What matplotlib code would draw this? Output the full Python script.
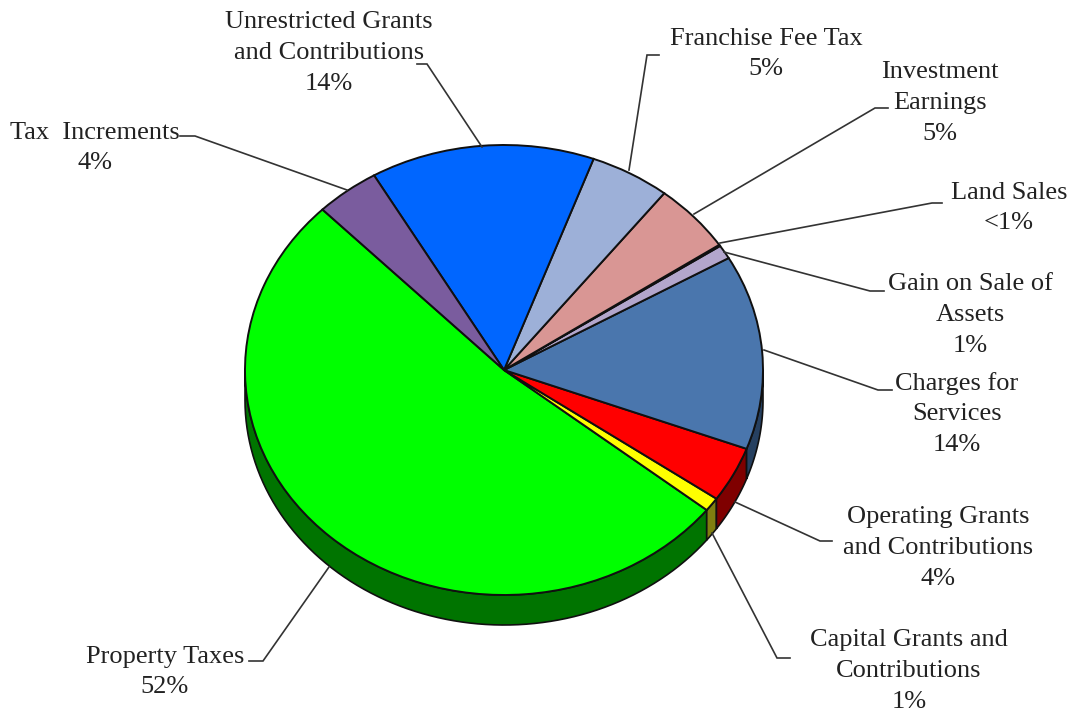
import numpy as np
import matplotlib.pyplot as plt

plt.rcParams['font.family'] = ['Liberation Serif', 'DejaVu Serif']

# slices run counter-clockwise from the start of Property Taxes
categories = ['Property Taxes', 'Capital Grants and\nContributions', 'Operating Grants\nand Contributions',
              'Charges for\nServices', 'Gain on Sale of\nAssets', 'Land Sales', 'Investment\nEarnings',
              'Franchise Fee Tax', 'Unrestricted Grants\nand Contributions', 'Tax  Increments']
values = [52, 1, 4, 14, 1, 0.1, 5, 5, 14, 4]
pct_labels = ['52%', '1%', '4%', '14%', '1%', '<1%', '5%', '5%', '14%', '4%']
top_colors = ['#00ff00', '#ffff00', '#ff0000', '#4a76ad', '#b3a6cc', '#b3a6cc',
              '#d99694', '#9db0d8', '#0066ff', '#7a5c9e']
side_colors = ['#007400', '#7f7f10', '#7f0000', '#264060', '#5a5066', '#5a5066',
               '#6d4b4a', '#4e586c', '#003380', '#3d2e4f']

W, H = 1076, 712
CX, CY, RX, RY, DEPTH = 504, 370, 259, 225, 30
EDGE = '#101010'

# label centre (px), then leader line points (px)
label_pos = [(165, 672), (909, 671), (938, 548), (957, 414), (970, 315), (1009, 208),
             (940, 103), (766, 54), (329, 53), (95, 148)]
leaders = [[(249, 661), (263, 661), (329, 567)],
           [(790, 658), (777, 658), (712, 533)],
           [(832, 541), (820, 541), (735, 502)],
           [(892, 390), (878, 390), (764, 350)],
           [(884, 291), (870, 291), (724, 252)],
           [(942, 203), (932, 203), (720, 243)],
           [(888, 108), (875, 108), (694, 214)],
           [(659, 55), (647, 55), (629, 170)],
           [(417, 64), (427, 64), (482, 147)],
           [(180, 136), (195, 136), (347, 190)]]

fig = plt.figure(figsize=(W / 100, H / 100), dpi=100, facecolor='white')
ax = fig.add_axes([0, 0, 1, 1])
wedges, _ = ax.pie(values, colors=top_colors, startangle=134.5, counterclock=True,
                   wedgeprops=dict(edgecolor=EDGE, linewidth=1.4))
for w in wedges:
    w.set_zorder(3)
ax.set_aspect('auto')
ax.set_xlim(-CX / RX, (W - CX) / RX)
ax.set_ylim(-(H - CY) / RY, CY / RY)
ax.axis('off')

# outer wall of the disc, only the part facing the viewer
d = DEPTH / RY
for w, col in zip(wedges, side_colors):
    t1, t2 = w.theta1 % 360, w.theta2 % 360
    if t2 < t1:
        t2 += 360
    for a, b in [(t1, t2), (t1 - 360, t2 - 360)]:
        lo, hi = max(a, 180), min(b, 360)
        if hi <= lo:
            continue
        t = np.radians(np.linspace(lo, hi, 80))
        xs = np.cos(t)
        ys = np.sin(t)
        ax.fill(np.r_[xs, xs[::-1]], np.r_[ys, ys[::-1] - d], facecolor=col,
                edgecolor=EDGE, linewidth=1.2, zorder=2)

# leaders and labels in pixel coordinates
over = fig.add_axes([0, 0, 1, 1], facecolor='none')
over.set_xlim(0, W)
over.set_ylim(H, 0)
over.axis('off')
for pts, (lx, ly), name, pct in zip(leaders, label_pos, categories, pct_labels):
    over.plot([p[0] for p in pts], [p[1] for p in pts], color='#333333', lw=1.2, solid_joinstyle='miter')
    over.text(lx, ly, name + '\n' + pct, ha='center', va='center', fontsize=19,
              color='#222222', linespacing=1.51)

fig.savefig('out.png', dpi=100)
